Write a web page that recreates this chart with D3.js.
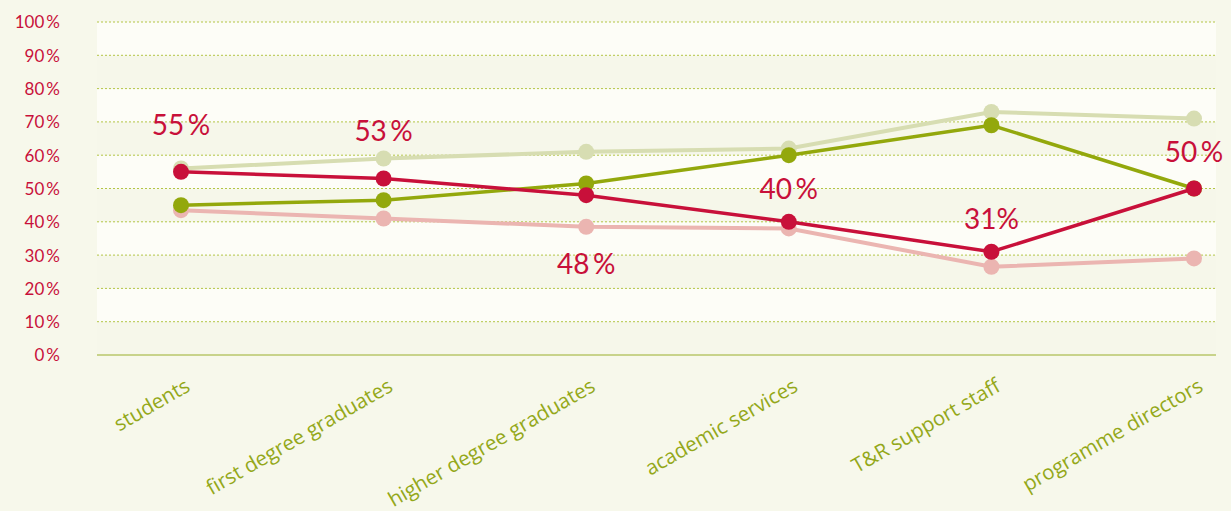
<!DOCTYPE html>
<html>
<head>
<meta charset="utf-8">
<script src="https://cdn.jsdelivr.net/npm/d3@7"></script>
<style>
  body { margin: 0; background: #f7f8eb; }
  text { font-family: Lato, "Open Sans", sans-serif; }
</style>
</head>
<body>
<svg id="chart" width="1231" height="511"></svg>
<script>
// categories and series (percent)
var categories = ["students", "first degree graduates", "higher degree graduates",
                  "academic services", "T&R support staff", "programme directors"];
var lightOlive = [56, 59, 61, 62, 73, 71];
var pink       = [43.5, 41, 38.5, 38, 26.5, 29];
var olive      = [45, 46.5, 51.5, 60, 69, 50];
var red        = [55, 53, 48, 40, 31, 50];
var redLabels  = ["55\u2009%", "53\u2009%", "48\u2009%", "40\u2009%", "31%", "50\u2009%"];
var yTicks     = [0, 10, 20, 30, 40, 50, 60, 70, 80, 90, 100];

var svg = d3.select("#chart"),
    plotLeft = 97, plotRight = 1216,
    plotTop = 22, plotBottom = 355;

var x = d3.scalePoint()
    .domain(categories)
    .range([181, 1194]);

var y = d3.scaleLinear()
    .domain([0, 100])
    .range([plotBottom, plotTop]);

// alternating bands
svg.append("g").selectAll("rect")
    .data(yTicks.slice(0, -1))
    .enter().append("rect")
    .attr("x", plotLeft)
    .attr("width", plotRight - plotLeft)
    .attr("y", function(d) { return y(d + 10); })
    .attr("height", function(d) { return y(d) - y(d + 10); })
    .attr("fill", function(d) { return (d / 10) % 2 == 0 ? "#f6f7ea" : "#fdfdf7"; });

// grid lines
svg.append("g").selectAll("line")
    .data(yTicks.slice(1))
    .enter().append("line")
    .attr("x1", plotLeft).attr("x2", plotRight)
    .attr("y1", function(d) { return y(d); })
    .attr("y2", function(d) { return y(d); })
    .attr("stroke", "#b3c545")
    .attr("stroke-width", 1)
    .attr("stroke-dasharray", "2,2");

// baseline
svg.append("line")
    .attr("x1", plotLeft).attr("x2", plotRight)
    .attr("y1", y(0)).attr("y2", y(0))
    .attr("stroke", "#9aae2a")
    .attr("stroke-width", 1);

// y axis labels
var yAxis = svg.append("g")
    .attr("transform", "translate(60,0)")
    .call(d3.axisLeft(y).tickValues(yTicks).tickSize(0).tickPadding(0)
        .tickFormat(function(d) { return d + "\u2009%"; }));
yAxis.select(".domain").remove();
yAxis.selectAll("text")
    .attr("fill", "#c8103a")
    .attr("font-size", "17px")
    .attr("dy", "0.35em");

// x axis labels
var xAxis = svg.append("g")
    .attr("transform", "translate(0," + plotBottom + ")")
    .call(d3.axisBottom(x).tickSize(0).tickPadding(0));
xAxis.select(".domain").remove();
xAxis.selectAll("text")
    .attr("fill", "#94a81a")
    .style("font-family", "'Open Sans', sans-serif")
    .style("font-size", "20.5px")
    .attr("text-anchor", "end")
    .attr("dy", 0)
    .attr("transform", "translate(10,35) rotate(-30)");

var line = d3.line()
    .x(function(d, i) { return x(categories[i]); })
    .y(function(d) { return y(d); });

var series = [
    { values: lightOlive, color: "#d7ddb2", width: 4 },
    { values: pink,       color: "#ebb5b1", width: 4 },
    { values: olive,      color: "#93a80c", width: 3.5 },
    { values: red,        color: "#c8103a", width: 3.5 }
];

series.forEach(function(s) {
    var g = svg.append("g");
    g.append("path")
        .datum(s.values)
        .attr("d", line)
        .attr("fill", "none")
        .attr("stroke", s.color)
        .attr("stroke-width", s.width);
    g.selectAll("circle")
        .data(s.values)
        .enter().append("circle")
        .attr("cx", function(d, i) { return x(categories[i]); })
        .attr("cy", function(d) { return y(d); })
        .attr("r", 8)
        .attr("fill", s.color);
});

// value labels for red series, nudged clear of the lines
var labelDy = [-37, -38, 79, -23, -23, -27];
svg.append("g").selectAll("text")
    .data(red)
    .enter().append("text")
    .attr("x", function(d, i) { return x(categories[i]); })
    .attr("y", function(d, i) { return y(d) + labelDy[i]; })
    .attr("text-anchor", "middle")
    .attr("fill", "#c8103a")
    .attr("font-size", "28px")
    .text(function(d, i) { return redLabels[i]; });
</script>
</body>
</html>
